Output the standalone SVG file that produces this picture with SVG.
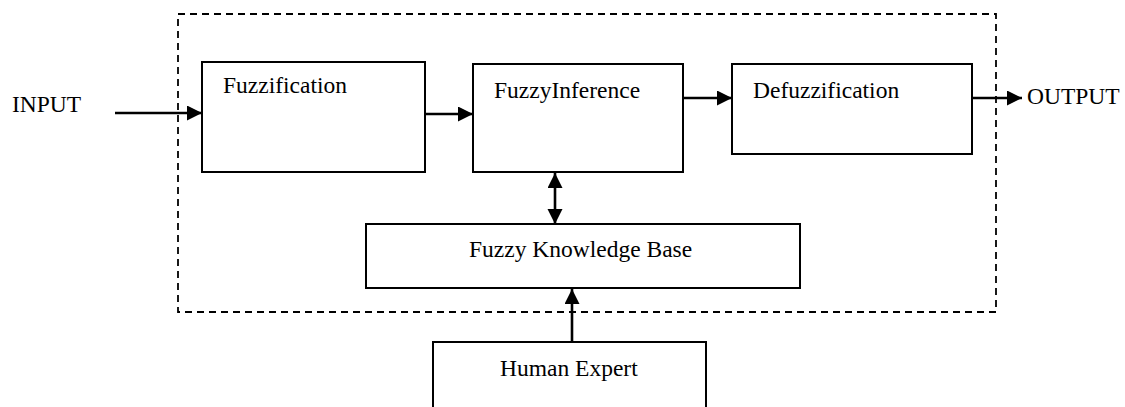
<svg xmlns="http://www.w3.org/2000/svg" width="1125" height="407" viewBox="0 0 1125 407">
  <style>
    .box { fill: #fff; stroke: #000; stroke-width: 2; }
    .frame { fill: none; stroke: #000; stroke-width: 1.8; stroke-dasharray: 7 5; }
    .link { fill: none; stroke: #000; stroke-width: 2.6; }
    text { font-family: "Liberation Serif", "Times New Roman", serif; font-size: 23.5px; fill: #000; }
  </style>
  <defs>
    <marker id="head" markerUnits="userSpaceOnUse" markerWidth="16" markerHeight="16" refX="15" refY="7.5" orient="auto-start-reverse">
      <path d="M0,0 L15,7.5 L0,15 z" fill="#000"/>
    </marker>
  </defs>
  <rect width="1125" height="407" fill="#fff"/>

  <!-- system boundary -->
  <rect id="system" class="frame" x="178" y="14" width="818" height="298"/>

  <g id="input">
    <text x="12" y="112">INPUT</text>
  </g>
  <g id="fuzzification">
    <rect class="box" x="202" y="62" width="223" height="110"/>
    <text x="223" y="93">Fuzzification</text>
  </g>
  <g id="inference">
    <rect class="box" x="473" y="64" width="210" height="108"/>
    <text x="494" y="98">FuzzyInference</text>
  </g>
  <g id="defuzzification">
    <rect class="box" x="732" y="64" width="240" height="90"/>
    <text x="753" y="98">Defuzzification</text>
  </g>
  <g id="output">
    <text x="1027" y="104">OUTPUT</text>
  </g>
  <g id="knowledge-base">
    <rect class="box" x="366" y="224" width="434" height="64"/>
    <text x="469" y="257">Fuzzy Knowledge Base</text>
  </g>
  <g id="human-expert">
    <rect class="box" x="433" y="342" width="273" height="80"/>
    <text x="500" y="376">Human Expert</text>
  </g>

  <g id="connectors">
    <line class="link" x1="115" y1="113" x2="202" y2="113" marker-end="url(#head)"/>
    <line class="link" x1="425" y1="114" x2="473" y2="114" marker-end="url(#head)"/>
    <line class="link" x1="683" y1="98" x2="732" y2="98" marker-end="url(#head)"/>
    <line class="link" x1="972" y1="98" x2="1022" y2="98" marker-end="url(#head)"/>
    <line class="link" x1="555" y1="173" x2="555" y2="224" marker-start="url(#head)" marker-end="url(#head)"/>
    <line class="link" x1="572" y1="342" x2="572" y2="289" marker-end="url(#head)"/>
  </g>
</svg>
